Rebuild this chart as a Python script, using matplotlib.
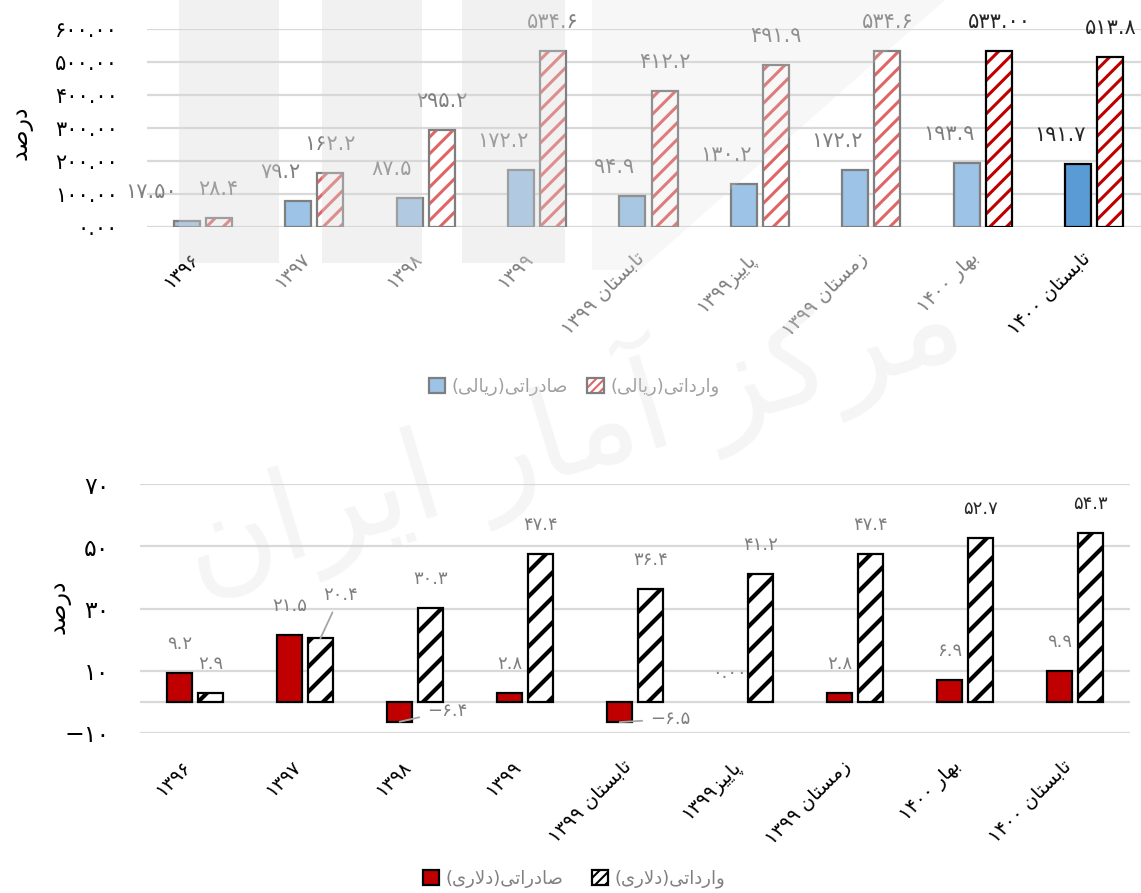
import re
import numpy as np
import matplotlib
matplotlib.use("Agg")
import matplotlib.pyplot as plt
from matplotlib.patches import Patch, Rectangle, Polygon
from matplotlib.legend_handler import HandlerTuple

########################################################################
# Data

categories = ["۱۳۹۶", "۱۳۹۷", "۱۳۹۸", "۱۳۹۹", "تابستان ۱۳۹۹",
              "پاییز۱۳۹۹", "زمستان ۱۳۹۹", "بهار ۱۴۰۰", "تابستان ۱۴۰۰"]

rial_export = [17.50, 79.2, 87.5, 172.2, 94.9, 130.2, 172.2, 193.9, 191.7]
rial_import = [28.4, 162.2, 295.2, 534.6, 412.2, 491.9, 534.6, 533.00, 513.8]
rial_export_dec = [2, 1, 1, 1, 1, 1, 1, 1, 1]
rial_import_dec = [1, 1, 1, 1, 1, 1, 1, 2, 1]

dollar_export = [9.2, 21.5, -6.4, 2.8, -6.5, 0.00, 2.8, 6.9, 9.9]
dollar_import = [2.9, 20.4, 30.3, 47.4, 36.4, 41.2, 47.4, 52.7, 54.3]
dollar_export_dec = [1, 1, 1, 1, 1, 2, 1, 1, 1]

top_yticks = [0, 100, 200, 300, 400, 500, 600]
bottom_yticks = [-10, 10, 30, 50, 70]

ylabel = "درصد"
legend_top = ["صادراتی(ریالی)", "وارداتی(ریالی)"]
legend_bottom = ["صادراتی(دلاری)", "وارداتی(دلاری)"]
watermark = "مرکز آمار ایران"

########################################################################
# Persian text: matplotlib does no Arabic shaping or RTL, so do it here

FORMS = {  # isolated, final, initial, medial
    'ا': ('\uFE8D', '\uFE8E'), 'آ': ('\uFE81', '\uFE82'),
    'د': ('\uFEA9', '\uFEAA'), 'ر': ('\uFEAD', '\uFEAE'),
    'ز': ('\uFEAF', '\uFEB0'), 'و': ('\uFEED', '\uFEEE'),
    'ب': ('\uFE8F', '\uFE90', '\uFE91', '\uFE92'),
    'پ': ('\uFB56', '\uFB57', '\uFB58', '\uFB59'),
    'ت': ('\uFE95', '\uFE96', '\uFE97', '\uFE98'),
    'س': ('\uFEB1', '\uFEB2', '\uFEB3', '\uFEB4'),
    'ص': ('\uFEB9', '\uFEBA', '\uFEBB', '\uFEBC'),
    'ک': ('\uFB8E', '\uFB8F', '\uFB90', '\uFB91'),
    'ل': ('\uFEDD', '\uFEDE', '\uFEDF', '\uFEE0'),
    'م': ('\uFEE1', '\uFEE2', '\uFEE3', '\uFEE4'),
    'ن': ('\uFEE5', '\uFEE6', '\uFEE7', '\uFEE8'),
    'ه': ('\uFEE9', '\uFEEA', '\uFEEB', '\uFEEC'),
    'ی': ('\uFBFC', '\uFBFD', '\uFBFE', '\uFBFF'),
}
MIRROR = str.maketrans("()", ")(")
FA_DIGITS = str.maketrans("0123456789-", "۰۱۲۳۴۵۶۷۸۹\u2212")
LTR = r'[0-9۰-۹.\-]'


def shape(s):
    out, i = [], 0
    while i < len(s):
        c = s[i]
        if c not in FORMS:
            out.append(c)
            i += 1
            continue
        prev = s[i - 1] if i > 0 else ''
        joins_prev = prev in FORMS and len(FORMS[prev]) == 4
        if c == 'ل' and i + 1 < len(s) and s[i + 1] == 'ا':
            out.append('\uFEFC' if joins_prev else '\uFEFB')
            i += 2
            continue
        nxt = s[i + 1] if i + 1 < len(s) else ''
        joins_next = len(FORMS[c]) == 4 and nxt in FORMS
        f = FORMS[c]
        if joins_prev and joins_next:
            out.append(f[3])
        elif joins_prev:
            out.append(f[1])
        elif joins_next:
            out.append(f[2])
        else:
            out.append(f[0])
        i += 1
    return ''.join(out)


def fa(s):
    if not any(c in FORMS for c in s):
        return s
    runs = re.findall(LTR + r'+|(?:(?!' + LTR + r').)+', shape(s))
    out = []
    for r in reversed(runs):
        out.append(r if re.match(LTR, r) else r[::-1].translate(MIRROR))
    return ''.join(out)


def num(v, dec):
    return f"{v:.{dec}f}".translate(FA_DIGITS)


########################################################################
# Figure. dpi 150 so that the hatch spacing comes out close to the original;
# sizes below are written as if at 100 dpi and scaled with pt().

W, H, DPI = 1141, 893, 150
fig = plt.figure(figsize=(W / DPI, H / DPI), dpi=DPI)
plt.rcParams['font.family'] = ['DejaVu Sans']


def pt(v):
    return v * 100 / DPI


def px_axes(left, right, top, bottom):
    return fig.add_axes([left / W, 1 - bottom / H, (right - left) / W, (bottom - top) / H])


x = np.arange(len(categories))
n = len(categories)
grid_c = '#D9D9D9'
label_grey = '#808080'
dark = '#262626'

########################################################################
# Top chart (rial)

ax1 = px_axes(147, 1150, 29, 227)
exp_fill = ['#9DC3E6'] * (n - 1) + ['#5B9BD5']
exp_edge = ['#7F7F7F'] * (n - 1) + ['black']
imp_hatch = ['#E06666'] * (n - 2) + ['#C00000'] * 2
imp_edge = ['#7F7F7F'] * (n - 2) + ['black'] * 2

ax1.bar(x - 0.144, rial_export, 0.233, color=exp_fill, edgecolor=exp_edge,
        linewidth=pt(1.6), zorder=3)
plt.rcParams['hatch.linewidth'] = pt(2.2)
ax1.bar(x + 0.144, rial_import, 0.233, color='white', edgecolor=imp_hatch,
        hatch='///', linewidth=0, zorder=3)
ax1.bar(x + 0.144, rial_import, 0.233, color='none', edgecolor=imp_edge,
        linewidth=pt(1.6), zorder=4)

top_lbl_col = [label_grey] * (n - 1) + [dark]
for i in range(n):
    ax1.annotate(num(rial_export[i], rial_export_dec[i]), (x[i] - 0.144, rial_export[i]),
                 xytext=(-36 if i == 0 else -18, 29), textcoords='offset pixels',
                 ha='center', va='center', fontsize=pt(15), color=top_lbl_col[i])
    ax1.annotate(num(rial_import[i], rial_import_dec[i]), (x[i] + 0.144, rial_import[i]),
                 xytext=(0, 29), textcoords='offset pixels',
                 ha='center', va='center', fontsize=pt(15),
                 color=dark if i >= n - 2 else label_grey, annotation_clip=False)

ax1.set_xlim(-0.5, n - 0.5)
ax1.set_ylim(0, 600)
ax1.set_yticks(top_yticks)
ax1.set_yticklabels([num(v, 2) for v in top_yticks])
ax1.set_xticks(x)
ax1.set_xticklabels([fa(c) for c in categories], rotation=45, ha='right', va='top')
for t, c in zip(ax1.get_xticklabels(), ['black'] + [label_grey] * (n - 2) + ['black']):
    t.set_color(c)
ax1.tick_params(axis='x', length=0, pad=pt(16), labelsize=pt(14))
ax1.tick_params(axis='y', length=0, pad=pt(21), labelsize=pt(15))
ax1.yaxis.grid(True, color=grid_c, linewidth=pt(1.6))
ax1.set_axisbelow(True)
for s in ax1.spines.values():
    s.set_visible(False)

########################################################################
# Bottom chart (dollar)

ax2 = px_axes(140, 1130, 484, 733)
ax2.bar(x - 0.14, dollar_export, 0.227, color='#C00000', edgecolor='black',
        linewidth=[pt(1.6) if v != 0 else 0 for v in dollar_export], zorder=3)
plt.rcParams['hatch.linewidth'] = pt(3.0)
ax2.bar(x + 0.14, dollar_import, 0.227, color='white', edgecolor='black',
        hatch='//', linewidth=pt(1.6), zorder=3)
ax2.axhline(0, color=grid_c, linewidth=pt(1.6), zorder=1)

# labels that were dragged off their default place, with a leader line
moved = {('e', 2): (48, 11), ('e', 4): (51, 3), ('i', 1): (20, 43)}
for key, vals, off, decs in [('e', dollar_export, -0.14, dollar_export_dec),
                             ('i', dollar_import, 0.14, [1] * n)]:
    for i in range(n):
        col = dark if (key == 'i' and i >= n - 2) else label_grey
        if (key, i) in moved:
            ax2.annotate(num(vals[i], decs[i]), (x[i] + off, vals[i]),
                         xytext=moved[(key, i)], textcoords='offset pixels',
                         ha='center', va='center', fontsize=pt(13), color=col,
                         arrowprops=dict(arrowstyle='-', color='#A6A6A6', lw=pt(1.3),
                                         shrinkA=2, shrinkB=0))
        else:
            ax2.annotate(num(vals[i], decs[i]), (x[i] + off, vals[i]),
                         xytext=(0, 29), textcoords='offset pixels',
                         ha='center', va='center', fontsize=pt(13), color=col,
                         annotation_clip=False)

ax2.set_xlim(-0.5, n - 0.5)
ax2.set_ylim(-10, 70)
ax2.set_yticks(bottom_yticks)
ax2.set_yticklabels([num(v, 0) for v in bottom_yticks])
ax2.set_xticks(x)
ax2.set_xticklabels([fa(c) for c in categories], rotation=45, ha='right', va='top')
ax2.tick_params(axis='x', length=0, pad=pt(17), labelsize=pt(14))
ax2.tick_params(axis='y', length=0, pad=pt(22), labelsize=pt(17))
ax2.yaxis.grid(True, color=grid_c, linewidth=pt(1.6))
ax2.set_axisbelow(True)
for s in ax2.spines.values():
    s.set_visible(False)

########################################################################
# Axis titles and legends

fig.text(21 / W, 1 - 133 / H, fa(ylabel), rotation=90, ha='center', va='center', fontsize=pt(17))
fig.text(58 / W, 1 - 607 / H, fa(ylabel), rotation=90, ha='center', va='center', fontsize=pt(17))

plt.rcParams['hatch.linewidth'] = pt(1.5)
h_exp = Patch(facecolor='#9DC3E6', edgecolor='#7F7F7F', linewidth=pt(1.6))
h_imp = (Patch(facecolor='white', edgecolor='#E06666', hatch='//////', linewidth=0),
         Patch(facecolor='none', edgecolor='#7F7F7F', linewidth=pt(1.6)))
fig.legend([h_exp, h_imp], [fa(t) for t in legend_top], loc='center',
           bbox_to_anchor=(574 / W, 1 - 387 / H), ncol=2, frameon=False,
           handlelength=0.9, handleheight=0.9, handletextpad=0.35, columnspacing=1.1,
           fontsize=pt(13), labelcolor='#A0A0A0',
           handler_map={tuple: HandlerTuple(ndivide=1, pad=0)})

h_exp2 = Patch(facecolor='#C00000', edgecolor='black', linewidth=pt(1.6))
h_imp2 = Patch(facecolor='white', edgecolor='black', hatch='/////', linewidth=pt(1.6))
fig.legend([h_exp2, h_imp2], [fa(t) for t in legend_bottom], loc='center',
           bbox_to_anchor=(574 / W, 1 - 879 / H), ncol=2, frameon=False,
           handlelength=0.9, handleheight=0.9, handletextpad=0.35, columnspacing=1.6,
           fontsize=pt(13), labelcolor='#808080')

########################################################################
# Faint watermark over the charts

wm = dict(facecolor='#D8D8D8', edgecolor='none', alpha=0.35, zorder=10)
for x0, x1 in [(179, 279), (322, 422), (462, 565)]:
    fig.add_artist(Rectangle((x0 / W, 1 - 263 / H), (x1 - x0) / W, 263 / H,
                             transform=fig.transFigure, **wm))
fig.add_artist(Polygon([(592 / W, 1), (945 / W, 1), (640 / W, 1 - 270 / H), (592 / W, 1 - 270 / H)],
                       closed=True, transform=fig.transFigure,
                       facecolor='#D8D8D8', edgecolor='none', alpha=0.2, zorder=10))
fig.text(570 / W, 1 - 430 / H, fa(watermark), rotation=17, ha='center', va='center',
         fontsize=pt(90), color='#D8D8D8', alpha=0.25, zorder=10)

fig.savefig("out.png", dpi=DPI)
